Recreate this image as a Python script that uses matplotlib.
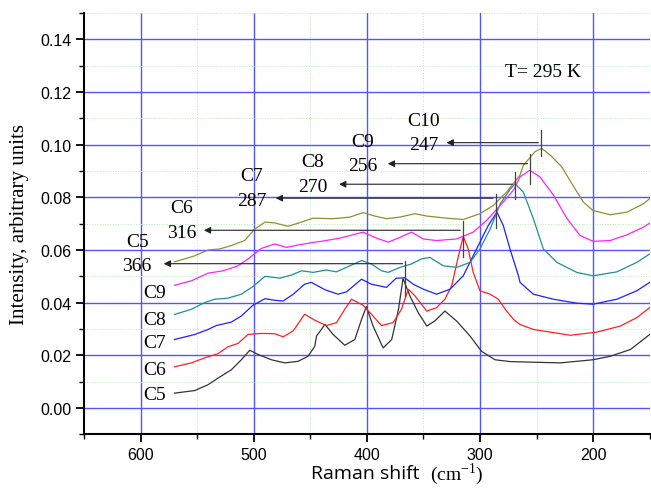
import matplotlib.pyplot as plt
from matplotlib.ticker import MultipleLocator

# Raman spectra (x in cm-1, y in arbitrary units)
x_c5 = [570, 552, 540.4, 531.6, 519.7, 510.9, 503.5, 496, 484.4, 472.6, 460.8, 452, 446, 444.5, 437, 429.8,
        419.5, 410.6, 404.7, 400.4, 394.5, 385.6, 378, 372, 368, 362, 354.6, 347, 340, 331, 320.6, 308.8,
        298.6, 286.7, 273.5, 229, 200, 185, 167, 150]
y_c5 = [.0056, .0066, .0088, .0113, .0145, .0183, .0219, .0203, .0183, .0171, .0177, .0196, .0234, .0273, .0317, .0279,
        .0238, .026, .0336, .0385, .0311, .0228, .026, .0375, .0492, .0426, .0362, .0311, .033, .0368, .033, .0273,
        .0215, .0183, .0176, .0171, .0183, .0196, .0222, .0279]

x_c6 = [570, 555, 543.4, 531.6, 522.8, 513.9, 505, 493.3, 481.4, 474, 465, 455, 446, 435.7, 426.8, 419.5,
        413.5, 403.3, 396, 387, 376.7, 369.4, 363.4, 357.5, 347, 338.4, 331, 325, 319, 314.8, 310.4, 306,
        300, 291, 283.8, 276.5, 270, 264.6, 252.8, 220, 196.7, 176, 161.4, 150]
y_c6 = [.0156, .0171, .019, .0206, .0232, .0245, .0279, .0283, .0282, .027, .0293, .0356, .0333, .0313, .0324, .0375,
        .0413, .039, .0356, .0313, .0324, .0375, .0451, .0426, .0368, .0381, .0413, .0464, .0578, .0652, .0604, .0515,
        .0445, .0432, .0413, .0368, .0335, .0317, .0298, .0276, .0288, .0311, .0343, .0381]

x_c7 = [570, 552, 540.4, 533, 519.8, 511, 500.7, 490, 481.4, 474, 465, 455, 449, 437, 425.4, 418,
        404.7, 396, 382.7, 374, 366.4, 359, 350, 338.4, 326.5, 314.8, 303, 292.7, 285, 279.4, 273.5,
        266, 264.6, 252.8, 235, 214.5, 200, 179, 161.4, 150]
y_c7 = [.026, .0279, .0298, .0313, .0326, .0349, .039, .0415, .0409, .0406, .0432, .047, .0477, .0449, .0432, .0441,
        .0489, .047, .0458, .0493, .0494, .047, .0451, .0432, .0451, .0502, .0604, .0693, .0744, .0693, .0604,
        .0502, .0477, .0432, .0413, .0398, .0394, .0413, .0445, .0477]

x_c8 = [570, 555, 543.4, 534.5, 522.8, 511, 500.7, 490, 477, 466.6, 457.8, 447.5, 435.7, 427, 418,
        404.7, 396, 387, 381, 370.8, 360.5, 351.7, 344.3, 332.5, 320.6, 308.8, 300, 291, 282, 273.5,
        269, 261.7, 252.8, 244, 232, 214.5, 200, 179, 161.4, 150]
y_c8 = [.0355, .0375, .040, .0413, .0417, .0432, .0461, .050, .0493, .0505, .0521, .0515, .0524, .0517, .0534,
        .056, .0547, .0521, .0515, .0534, .0547, .0566, .0572, .054, .0534, .0553, .0604, .068, .0776, .083,
        .0852, .082, .0719, .0604, .0553, .0515, .0502, .0517, .0553, .0585]

x_c9 = [570, 555, 540.4, 527, 513.9, 505, 493.3, 481.4, 471, 460.8, 446, 441.6, 424, 403.3, 391.4, 381,
        370.8, 360.5, 350, 338.4, 320.6, 306, 294, 282, 270.5, 264.6, 256, 247, 235, 223, 211.5, 200,
        185, 170, 155.5, 150]
y_c9 = [.0466, .0483, .0512, .0521, .054, .0566, .0606, .0623, .061, .0619, .063, .0632, .0645, .0668, .0645, .063,
        .0648, .0668, .0642, .0636, .0642, .0668, .0713, .077, .0827, .0878, .0903, .0878, .0808, .0719, .0655, .0633,
        .0636, .0658, .0687, .0702]

x_c10 = [570, 552, 540.4, 530, 519.8, 508, 499, 490, 481.4, 469.7, 457.8, 447.5, 429.8, 415, 403.3, 393,
         382.7, 370.8, 357.5, 347, 329.6, 314.8, 300, 288, 276.5, 264.6, 261.7, 251.3, 245.4, 238, 227.7,
         218.8, 208.6, 200, 185, 170, 155.5, 150]
y_c10 = [.0555, .0578, .060, .0604, .0617, .0636, .068, .0706, .0703, .069, .0706, .0721, .0719, .0725, .0742, .0729,
         .0719, .0725, .0738, .0729, .0721, .0716, .0738, .077, .082, .0885, .0922, .0974, .0986, .0961, .0916,
         .0852, .0782, .075, .0734, .0744, .0776, .0795]

colors = ['#333333', '#ff2020', '#2020ff', '#209090', '#ff20ff', '#909030']

# peak annotations
peak_names = ['C5', 'C6', 'C7', 'C8', 'C9', 'C10']
peak_labels = ['366', '316', '287', '270', '256', '247']
peak_x = [366, 315, 286, 269, 255.5, 246]
tick_lo = [0.0426, 0.0572, 0.0683, 0.0793, 0.0849, 0.0958]
tick_hi = [0.056, 0.0712, 0.0814, 0.0897, 0.0963, 0.1056]
arrow_y = [0.0548, 0.0675, 0.0797, 0.0850, 0.0928, 0.1008]
arrow_end = [582, 546.5, 483, 427, 384, 332]
label_x = [603, 564, 502, 448, 403.5, 350]

left_names = ['C9', 'C8', 'C7', 'C6', 'C5']
left_y = [0.0438, 0.0336, 0.0248, 0.0145, 0.005]

fig = plt.figure(figsize=(6.51, 4.89), dpi=100)
ax = fig.add_axes([0.129, 0.110, 0.869, 0.861])

xs = [x_c5, x_c6, x_c7, x_c8, x_c9, x_c10]
ys = [y_c5, y_c6, y_c7, y_c8, y_c9, y_c10]
for xv, yv, c in zip(xs, ys, colors):
    ax.plot(xv, yv, color=c, lw=0.9, zorder=3)

serif = 'Liberation Serif'
for i in range(len(peak_names)):
    ax.plot([peak_x[i], peak_x[i]], [tick_lo[i], tick_hi[i]], color='#444444', lw=0.9, zorder=4)
    ax.annotate('', xy=(arrow_end[i], arrow_y[i]), xytext=(peak_x[i], arrow_y[i]),
                arrowprops=dict(arrowstyle='-|>', color='#222222', lw=0.8, mutation_scale=10),
                zorder=4)
    ax.text(label_x[i], arrow_y[i] - 0.0008, peak_labels[i], family=serif, fontsize=14,
            ha='center', va='center')
    ax.text(label_x[i], arrow_y[i] + 0.0085, peak_names[i], family=serif, fontsize=14,
            ha='center', va='center')

for n, yv in zip(left_names, left_y):
    ax.text(588, yv, n, family=serif, fontsize=14, ha='center', va='center')

ax.text(278, 0.128, 'T= 295 K', family=serif, fontsize=14, ha='left', va='center')

ax.set_xlim(650, 150)
ax.set_ylim(-0.01, 0.15)
ax.xaxis.set_major_locator(MultipleLocator(100))
ax.xaxis.set_minor_locator(MultipleLocator(50))
ax.yaxis.set_minor_locator(MultipleLocator(0.01))
ax.set_yticks([0, 0.02, 0.04, 0.06, 0.08, 0.10, 0.12, 0.14])
ax.yaxis.set_major_formatter(plt.FuncFormatter(lambda v, p: '%.2f' % v))

ax.grid(which='major', color='#5555ff', lw=1.0, zorder=1)
ax.grid(which='minor', color='#b8ecb8', lw=0.7, ls=':', zorder=1)
ax.set_axisbelow(True)

for s in ['top', 'right']:
    ax.spines[s].set_visible(False)
for s in ['left', 'bottom']:
    ax.spines[s].set_linewidth(1.5)
ax.tick_params(which='major', direction='out', length=6, width=1.3, labelsize=11.5, pad=3)
ax.tick_params(which='minor', direction='out', length=3.5, width=1.0)
for lab in ax.get_xticklabels() + ax.get_yticklabels():
    lab.set_family('Liberation Sans')

ax.set_ylabel('Intensity, arbitrary units', family=serif, fontsize=15, labelpad=8)
fig.text(0.478, 0.030, 'Raman shift', family='Open Sans', fontsize=14, ha='left', va='center')
fig.text(0.660, 0.030, r'(cm$^{\mathregular{-1}}$)', family=serif, fontsize=14, ha='left', va='center')

fig.savefig('out.png')
